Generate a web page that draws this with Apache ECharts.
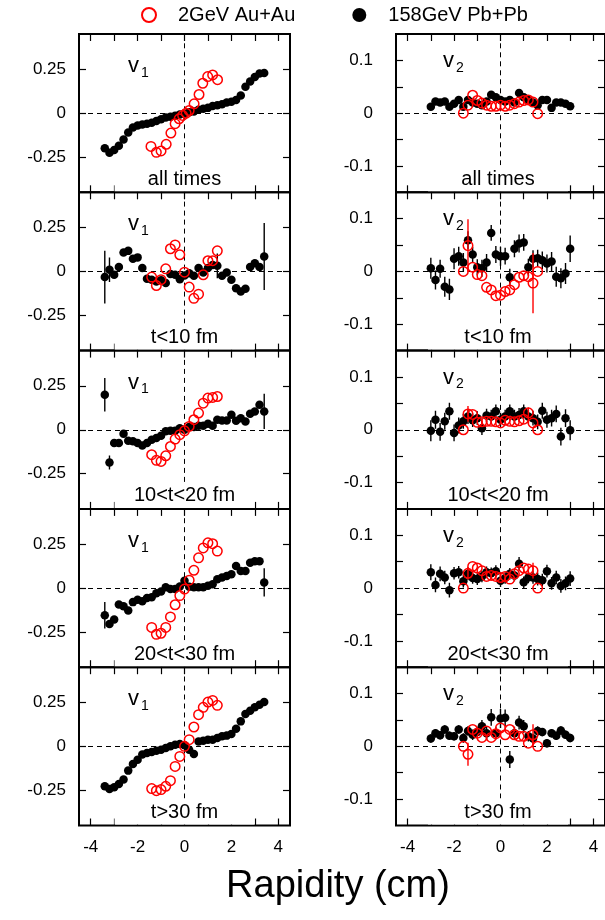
<!DOCTYPE html>
<html><head><meta charset="utf-8">
<script src="https://cdn.jsdelivr.net/npm/echarts@6/dist/echarts.min.js"></script>
<style>html,body{margin:0;padding:0;background:#fff}#c{width:605px;height:920px}</style>
</head><body><div id="c"></div>
<script>
// ---------------- DATA ----------------
const panelLabels = ['all times', 't<10 fm', '10<t<20 fm', '20<t<30 fm', 't>30 fm'];
const nameAu = '2GeV Au+Au';
const namePb = '158GeV Pb+Pb';
const xTickLabels = [-4, -2, 0, 2, 4];
const xTicks = [-4, -3, -2, -1, 0, 1, 2, 3, 4];
const v1TickLabels = [-0.25, 0, 0.25];
const v2TickLabels = [-0.1, 0, 0.1];
const v2Ticks = [-0.1, -0.05, 0, 0.05, 0.1];

const rapPbV1 = [-3.4,-3.2,-3.0,-2.8,-2.6,-2.4,-2.2,-2.0,-1.8,-1.6,-1.4,-1.2,-1.0,-0.8,-0.6,-0.4,-0.2,0,0.2,0.4,0.6,0.8,1.0,1.2,1.4,1.6,1.8,2.0,2.2,2.4,2.6,2.8,3.0,3.2,3.4];
const rapPbV2 = [-3.0,-2.8,-2.6,-2.4,-2.2,-2.0,-1.8,-1.6,-1.4,-1.2,-1.0,-0.8,-0.6,-0.4,-0.2,0,0.2,0.4,0.6,0.8,1.0,1.2,1.4,1.6,1.8,2.0,2.2,2.4,2.6,2.8,3.0];
const rapAuV1All = [-1.43,-1.2,-1.0,-0.78,-0.58,-0.4,-0.23,-0.08,0.07,0.2,0.41,0.62,0.78,0.99,1.2,1.41];
const rapAuV1 = [-1.4,-1.2,-1.0,-0.8,-0.6,-0.4,-0.2,0,0.2,0.4,0.6,0.8,1.0,1.2,1.4];
const rapAuV2 = [-1.6,-1.4,-1.2,-1.0,-0.8,-0.6,-0.4,-0.2,0,0.2,0.4,0.6,0.8,1.0,1.2,1.4,1.6];

// v1, 158GeV Pb+Pb
const v1PbAll = [-0.200,-0.225,-0.210,-0.185,-0.150,-0.110,-0.082,-0.070,-0.065,-0.060,-0.055,-0.045,-0.035,-0.025,-0.020,-0.015,-0.008,-0.003,0.005,0.010,0.020,0.025,0.030,0.040,0.045,0.050,0.060,0.065,0.075,0.100,0.150,0.180,0.205,0.225,0.228];
const v1PbT10 = [-0.032,0.010,-0.019,0.025,0.108,0.117,0.072,0.080,0.019,-0.042,-0.047,-0.057,-0.050,-0.066,-0.015,-0.019,-0.044,-0.023,-0.010,-0.025,0.019,-0.006,0.019,0.036,0.032,-0.025,-0.006,-0.047,-0.095,-0.114,-0.098,0.025,0.047,0.025,0.085];
const v1PbT20 = [0.199,-0.186,-0.076,-0.076,-0.023,-0.063,-0.066,-0.076,-0.089,-0.076,-0.057,-0.047,-0.034,-0.009,-0.006,-0.006,0.009,0.000,0.015,0.015,0.023,0.023,0.034,0.023,0.057,0.053,0.053,0.085,0.051,0.066,0.047,0.091,0.104,0.142,0.104];
const v1PbT30 = [-0.155,-0.205,-0.179,-0.093,-0.104,-0.127,-0.080,-0.067,-0.075,-0.056,-0.052,-0.030,-0.019,0.004,-0.006,-0.006,0.009,0.041,0.007,0.004,0.004,0.004,0.013,0.022,0.050,0.060,0.068,0.078,0.125,0.097,0.097,0.144,0.153,0.153,0.032];
const v1PbT40 = [-0.227,-0.242,-0.233,-0.214,-0.189,-0.138,-0.100,-0.076,-0.047,-0.038,-0.032,-0.025,-0.019,-0.009,0.000,0.009,0.013,0.006,-0.019,-0.044,0.028,0.032,0.038,0.038,0.047,0.057,0.061,0.070,0.100,0.142,0.184,0.203,0.222,0.237,0.252];
const e1PbAll = [0,0,0,0,0,0,0,0,0,0,0,0,0,0,0,0,0,0,0,0,0,0,0,0,0,0,0,0,0,0,0,0,0,0,0];
const e1PbT10 = [0.15,0.07,0,0,0,0,0,0,0,0,0,0,0,0,0,0,0,0,0,0,0,0,0,0,0.07,0,0,0,0,0,0,0,0,0,0.19];
const e1PbT20 = [0.095,0.04,0,0,0,0,0,0,0,0,0,0,0,0,0,0,0,0,0,0,0,0,0,0,0,0,0,0,0,0,0,0,0,0,0.1];
const e1PbT30 = [0.075,0,0,0,0,0,0,0,0,0,0,0,0,0,0,0,0,0,0,0,0,0,0,0,0,0,0,0,0,0,0,0,0,0,0.08];
const e1PbT40 = [0,0,0,0,0,0,0,0,0,0,0,0,0,0,0,0,0,0,0,0,0,0,0,0,0,0,0,0,0,0,0,0,0,0,0];

// v1, 2GeV Au+Au
const v1AuAll = [-0.189,-0.223,-0.215,-0.177,-0.113,-0.060,-0.032,-0.013,0.000,0.015,0.053,0.106,0.170,0.208,0.217,0.190];
const v1AuT10 = [-0.032,-0.080,-0.047,0.015,0.129,0.151,0.095,-0.004,-0.089,-0.153,-0.129,-0.019,0.061,0.061,0.117];
const v1AuT20 = [-0.142,-0.174,-0.180,-0.148,-0.095,-0.053,-0.028,-0.006,0.019,0.057,0.095,0.151,0.180,0.184,0.189];
const v1AuT30 = [-0.224,-0.263,-0.257,-0.224,-0.164,-0.095,-0.043,-0.006,0.045,0.101,0.172,0.228,0.257,0.252,0.210];
const v1AuT40 = [-0.240,-0.252,-0.246,-0.227,-0.195,-0.114,-0.057,0.000,0.038,0.110,0.180,0.222,0.252,0.261,0.233];

// v2, 158GeV Pb+Pb
const v2PbAll = [0.012,0.022,0.020,0.022,0.012,0.018,0.025,0.012,0.025,0.020,0.018,0.015,0.022,0.035,0.030,0.025,0.022,0.025,0.020,0.038,0.030,0.025,0.020,0.015,0.025,0.025,0.010,0.020,0.020,0.018,0.013];
const v2PbT10 = [0.006,-0.016,0.005,-0.029,-0.034,0.024,0.029,0.017,0.059,0.032,0.008,0.006,0.017,0.073,0.032,0.029,0.029,-0.011,0.043,0.053,0.055,0.008,0.024,0.025,0.021,0.015,0.019,-0.010,-0.013,-0.004,0.043];
const v2PbT20 = [-0.002,0.019,-0.004,0.016,0.035,-0.006,0.008,0.016,0.025,0.018,0.022,0.003,0.027,0.025,0.035,0.019,0.025,0.035,0.025,0.028,0.035,0.025,0.022,0.015,0.036,0.019,0.022,0.030,-0.013,0.022,-0.001];
const v2PbT30 = [0.030,0.006,0.027,0.020,-0.004,0.028,0.030,0.013,0.027,0.019,0.017,0.022,0.030,0.028,0.032,0.014,0.019,0.027,0.024,0.046,0.011,0.020,0.020,0.017,0.015,0.032,0.009,0.020,0.004,0.009,0.018];
const v2PbT40 = [0.015,0.025,0.021,0.032,0.020,0.019,0.032,0.016,0.029,0.022,0.027,0.038,0.025,0.055,0.025,0.053,0.054,-0.025,0.025,0.045,0.038,0.019,0.015,0.029,0.027,0.006,0.025,0.020,0.030,0.022,0.016];
const e2PbAll = [0,0,0,0,0,0,0,0,0,0,0,0,0,0,0,0,0,0,0,0,0,0,0,0,0,0,0,0,0,0,0];
const e2PbT10 = [0.020,0.018,0.017,0.019,0.020,0.020,0.018,0.018,0.017,0.015,0.015,0.016,0.016,0.015,0.016,0.018,0.016,0.016,0.016,0.017,0.016,0.016,0.016,0.016,0.017,0.017,0.018,0.019,0.019,0.020,0.025];
const e2PbT20 = [0.020,0.017,0.017,0.016,0.016,0.016,0.015,0.014,0.014,0.013,0.013,0.013,0.013,0.013,0.013,0.013,0.013,0.013,0.013,0.013,0.013,0.013,0.014,0.014,0.015,0.015,0.016,0.016,0.017,0.017,0.019];
const e2PbT30 = [0.015,0.014,0.014,0.013,0.014,0.012,0.012,0.012,0.012,0.011,0.011,0.011,0.011,0.011,0.011,0.012,0.011,0.011,0.011,0.013,0.011,0.011,0.012,0.012,0.012,0.012,0.012,0.013,0.013,0.013,0.014];
const e2PbT40 = [0.008,0.008,0.008,0.008,0.008,0.008,0.008,0.009,0.009,0.010,0.010,0.012,0.012,0.016,0.012,0.018,0.016,0.016,0.012,0.013,0.012,0.010,0.009,0.009,0.008,0.008,0.008,0.008,0.008,0.008,0.008];

// v2, 2GeV Au+Au
const v2AuAll = [0.000,0.015,0.034,0.024,0.019,0.015,0.013,0.013,0.015,0.013,0.015,0.018,0.021,0.024,0.025,0.021,-0.001];
const v2AuT10 = [0.000,0.049,0.008,-0.006,-0.008,-0.030,-0.035,-0.046,-0.045,-0.038,-0.035,-0.025,-0.011,-0.008,-0.010,-0.022,0.000];
const v2AuT20 = [0.000,0.030,0.029,0.014,0.015,0.016,0.016,0.015,0.013,0.018,0.016,0.015,0.017,0.020,0.032,0.013,0.000];
const v2AuT30 = [0.000,0.028,0.041,0.038,0.033,0.022,0.024,0.022,0.020,0.022,0.017,0.027,0.033,0.038,0.036,0.033,0.000];
const v2AuT40 = [0.000,-0.015,0.032,0.025,0.017,0.029,0.017,0.024,0.035,0.022,0.032,0.022,0.019,0.019,0.006,0.022,0.000];
const e2AuAll = [0,0,0,0,0,0,0,0,0,0,0,0,0,0,0,0,0];
const e2AuT10 = [0,0.050,0,0,0,0,0,0,0,0,0,0,0,0,0,0.057,0];
const e2AuT20 = [0,0.015,0,0,0,0,0,0,0,0,0,0,0,0,0.010,0,0];
const e2AuT30 = [0,0.012,0,0,0,0,0,0,0,0,0,0,0,0,0,0.015,0];
const e2AuT40 = [0,0.022,0,0,0,0,0,0,0,0,0,0,0,0,0,0.020,0];

// ---------------- BUILD ----------------
const zip = (xs, ys, es) => xs.map((x, i) => es ? [x, ys[i], es[i]] : [x, ys[i]]);

const panelsLeft = [
  {pb: zip(rapPbV1, v1PbAll, e1PbAll), au: zip(rapAuV1All, v1AuAll)},
  {pb: zip(rapPbV1, v1PbT10, e1PbT10), au: zip(rapAuV1, v1AuT10)},
  {pb: zip(rapPbV1, v1PbT20, e1PbT20), au: zip(rapAuV1, v1AuT20)},
  {pb: zip(rapPbV1, v1PbT30, e1PbT30), au: zip(rapAuV1, v1AuT30)},
  {pb: zip(rapPbV1, v1PbT40, e1PbT40), au: zip(rapAuV1, v1AuT40)}
];
const panelsRight = [
  {pb: zip(rapPbV2, v2PbAll, e2PbAll), au: zip(rapAuV2, v2AuAll, e2AuAll)},
  {pb: zip(rapPbV2, v2PbT10, e2PbT10), au: zip(rapAuV2, v2AuT10, e2AuT10)},
  {pb: zip(rapPbV2, v2PbT20, e2PbT20), au: zip(rapAuV2, v2AuT20, e2AuT20)},
  {pb: zip(rapPbV2, v2PbT30, e2PbT30), au: zip(rapAuV2, v2AuT30, e2AuT30)},
  {pb: zip(rapPbV2, v2PbT40, e2PbT40), au: zip(rapAuV2, v2AuT40, e2AuT40)}
];

const FONT = 'Liberation Sans, Arial, sans-serif';
const LEFT_X = 79, LEFT_W = 211, RIGHT_X = 396, RIGHT_W = 212;
const TOP0 = 34, ROW_H = 158.3;

const grids = [], xAxes = [], yAxes = [], series = [], graphics = [];

function errRender(params, api) {
  const x = api.value(0), y = api.value(1), e = api.value(2);
  if (!e) return null;
  const p1 = api.coord([x, y - e]);
  const p2 = api.coord([x, y + e]);
  return {type: 'line', shape: {x1: p1[0], y1: p1[1], x2: p2[0], y2: p2[1]},
          style: {stroke: api.visual('color'), lineWidth: 1.4}};
}

function addPanel(col, row, data) {
  const g = grids.length;
  const left = col === 0 ? LEFT_X : RIGHT_X;
  const width = col === 0 ? LEFT_W : RIGHT_W;
  const top = TOP0 + row * ROW_H;
  grids.push({left: left, top: top, width: width, height: ROW_H, show: true,
              borderColor: '#000', borderWidth: 2, backgroundColor: 'transparent'});
  const isV1 = col === 0;
  const yMin = isV1 ? -0.45 : -0.15, yMax = isV1 ? 0.45 : 0.15;
  const yTicks = isV1 ? v1TickLabels : v2Ticks;
  const yLabels = isV1 ? v1TickLabels : v2TickLabels;
  const tickStyle = {color: '#000', width: 1.2};
  ['bottom', 'top'].forEach((pos, k) => {
    xAxes.push({gridIndex: g, type: 'value', position: pos, min: -4.5, max: 4.5,
      axisLine: {show: false, onZero: false}, splitLine: {show: false},
      axisTick: {show: true, inside: true, length: 7, customValues: xTicks, lineStyle: tickStyle},
      axisLabel: {show: k === 0 && row === 4, customValues: xTickLabels, margin: 13,
                  fontSize: 17, color: '#000', fontFamily: FONT}});
  });
  ['left', 'right'].forEach((pos, k) => {
    yAxes.push({gridIndex: g, type: 'value', position: pos, min: yMin, max: yMax,
      axisLine: {show: false, onZero: false}, splitLine: {show: false},
      axisTick: {show: true, inside: true, length: 7, customValues: yTicks, lineStyle: tickStyle},
      axisLabel: {show: k === 0, customValues: yLabels, margin: isV1 ? 13 : 23,
                  fontSize: 17, color: '#000', fontFamily: FONT}});
  });
  const xi = 2 * g, yi = 2 * g;
  series.push({type: 'custom', name: 'errPb', xAxisIndex: xi, yAxisIndex: yi, renderItem: errRender,
    itemStyle: {color: '#000'}, data: data.pb, clip: true, z: 3, silent: true,
    encode: {x: 0, y: 1}});
  series.push({type: 'scatter', name: namePb, xAxisIndex: xi, yAxisIndex: yi,
    data: data.pb.map(d => [d[0], d[1]]), symbol: 'circle', symbolSize: 8.5,
    itemStyle: {color: '#000', opacity: 1}, z: 4,
    markLine: {silent: true, symbol: ['none', 'none'], label: {show: false},
      lineStyle: {color: '#000', type: [5, 4], width: 1}, emphasis: {disabled: true},
      data: [{yAxis: 0}, {xAxis: 0}]}});
  if (data.au[0].length > 2) {
    series.push({type: 'custom', name: 'errAu', xAxisIndex: xi, yAxisIndex: yi, renderItem: errRender,
      itemStyle: {color: '#ff0000'}, data: data.au, clip: true, z: 5, silent: true,
      encode: {x: 0, y: 1}});
  }
  series.push({type: 'scatter', name: nameAu, xAxisIndex: xi, yAxisIndex: yi,
    data: data.au.map(d => [d[0], d[1]]), symbol: 'circle', symbolSize: 9.5,
    itemStyle: {color: 'rgba(255,255,255,0)', borderColor: '#ff0000', borderWidth: 1.5, opacity: 1}, z: 6});

  // panel label box at bottom
  const cx = left + width / 2 - (col === 1 ? 4 : 0);
  const bottom = top + ROW_H;
  graphics.push({type: 'rect', z: 50, shape: {x: cx - 70, y: bottom - 27, width: 140, height: 26},
    style: {fill: '#fff'}, silent: true});
  graphics.push({type: 'text', z: 51, x: cx, y: bottom - 13, silent: true,
    style: {text: panelLabels[row], fill: '#000', font: '20px ' + FONT, align: 'center', verticalAlign: 'middle'}});
  // v_n label
  const vx = col === 0 ? 128 : 443;
  const vy = top + (col === 0 ? 32 : 27);
  graphics.push({type: 'text', z: 51, x: vx, y: vy, silent: true,
    style: {text: 'v', fill: '#000', font: '22px ' + FONT, align: 'left', verticalAlign: 'middle'}});
  graphics.push({type: 'text', z: 51, x: vx + 13, y: vy + 7, silent: true,
    style: {text: col === 0 ? '1' : '2', fill: '#000', font: '14px ' + FONT, align: 'left', verticalAlign: 'middle'}});
}

for (let r = 0; r < 5; r++) {
  addPanel(0, r, panelsLeft[r]);
  addPanel(1, r, panelsRight[r]);
}

graphics.push({type: 'text', z: 51, x: 338, y: 887, silent: true,
  style: {text: 'Rapidity (cm)', fill: '#000', font: '38px ' + FONT, align: 'center', verticalAlign: 'middle'}});

const option = {
  animation: false,
  backgroundColor: '#fff',
  grid: grids,
  xAxis: xAxes,
  yAxis: yAxes,
  legend: {
    left: 136, top: 0, itemWidth: 14, itemHeight: 14, itemGap: 57, selectedMode: false,
    textStyle: {fontSize: 20, color: '#000', fontFamily: FONT, padding: [0, 0, 0, 17]},
    data: [
      {name: nameAu, icon: 'circle', itemStyle: {color: '#fff', borderColor: '#ff0000', borderWidth: 2}},
      {name: namePb, icon: 'circle', itemStyle: {color: '#000', borderWidth: 0, opacity: 1}}
    ]
  },
  series: series,
  graphic: graphics
};

const chart = echarts.init(document.getElementById('c'));
chart.setOption(option);
</script></body></html>
